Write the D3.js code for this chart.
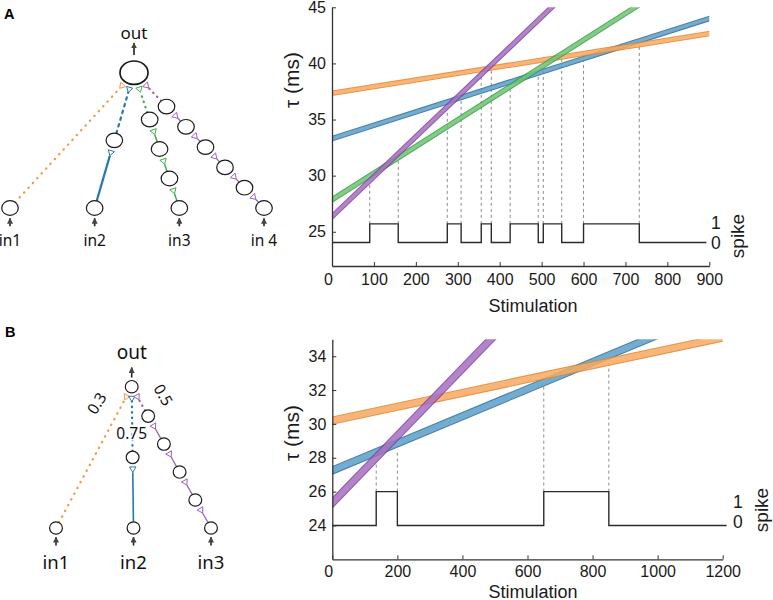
<!DOCTYPE html>
<html>
<head>
<meta charset="utf-8">
<script src="https://cdn.jsdelivr.net/npm/d3@7"></script>
<style>
  html, body { margin: 0; padding: 0; background: #fff; }
  svg { display: block; }
</style>
</head>
<body>
<svg id="fig" width="773" height="600"></svg>
<script>
// ---------- panel A data ----------
var stimTicksA = [0, 100, 200, 300, 400, 500, 600, 700, 800, 900];
var tauTicksA = [25, 30, 35, 40, 45];
var inputsA = ["in1", "in2", "in3", "in 4"];
var relaysA = [0, 1, 3, 5];
// [stimulation, tau] at both ends of each band
var tauIn1A = [[0, 37.35], [900, 42.65]];
var tauIn2A = [[0, 33.3], [900, 44.0]];
var tauIn3A = [[0, 27.85], [723, 45]];
var tauIn4A = [[0, 26.35], [524, 45]];
var spikeOnA = [[90, 158], [275, 308], [356, 380], [425, 492], [504, 548], [600, 733]];
var dashTopA = [29.35, 31.4, 35.95, 36.75, 38.8, 39.4, 37.7, 38.95, 39.6, 40.4, 40.2, 41.5];
var spikeLevelA = [24.05, 25.7];
var spikeEndA = 893;

// ---------- panel B data ----------
var stimTicksB = [0, 200, 400, 600, 800, 1000, 1200];
var tauTicksB = [24, 26, 28, 30, 32, 34];
var inputsB = ["in1", "in2", "in3"];
var relaysB = [0, 1, 4];
var weightsB = ["0.3", "0.75", "0.5"];
var tauIn1B = [[0, 30.2], [1200, 35.1]];
var tauIn2B = [[0, 27.25], [968, 35]];
var tauIn3B = [[0, 25.33], [487, 35]];
var spikeOnB = [[135, 200], [650, 850]];
var dashTopB = [27.6, 28.5, 32.2, 33.55];
var spikeLevelB = [24, 26];
var spikeEndB = 1212;

var spikeTickLabels = ["0", "1"];

// ---------- styles ----------
var ORANGE = {edge: "#e8822a", fill: "#f6ab63", tree: "#f29a45"};
var BLUE   = {edge: "#2a6a95", fill: "#5b9ec8", tree: "#2878b0"};
var GREEN  = {edge: "#3a9c44", fill: "#6dc474", tree: "#45a84c"};
var PURPLE = {edge: "#7b3f99", fill: "#a66fc0", tree: "#9a62b8"};
var FONT = "'Liberation Sans', Arial, sans-serif";
var TFONT = "'Noto Sans', 'DejaVu Sans', sans-serif";

var svg = d3.select("#fig");
var defs = svg.append("defs");

defs.append("marker")
  .attr("id", "head")
  .attr("viewBox", "0 0 10 10")
  .attr("refX", 9).attr("refY", 5)
  .attr("markerUnits", "userSpaceOnUse")
  .attr("markerWidth", 6).attr("markerHeight", 6)
  .attr("orient", "auto")
  .append("path").attr("d", "M0,0L10,5L0,10Z").attr("fill", "#444");

function extend(pts, x, y, ext) {
  var x0 = x(pts[0][0]), y0 = y(pts[0][1]), x1 = x(pts[1][0]), y1 = y(pts[1][1]);
  var len = Math.hypot(x1 - x0, y1 - y0), ux = (x1 - x0) / len, uy = (y1 - y0) / len;
  return [[x0 - ux * ext, y0 - uy * ext], [x1 + ux * ext, y1 + uy * ext]];
}

function drawChart(opt) {
  var g = svg.append("g");
  var x = d3.scaleLinear().domain(opt.xDomain).range([opt.left, opt.right]);
  var y = d3.scaleLinear().domain(opt.yDomain).range([opt.bottom, opt.top]);

  defs.append("clipPath").attr("id", "clip" + opt.id)
    .append("rect")
    .attr("x", x(opt.xDomain[0])).attr("y", y(opt.yDomain[1]))
    .attr("width", x(opt.xDomain[1]) - x(opt.xDomain[0]))
    .attr("height", y(opt.yDomain[0]) - y(opt.yDomain[1]));

  // dashed markers from spike edges up to the crossing
  var edges = [];
  opt.spikeOn.forEach(function(p) { edges.push(p[0], p[1]); });
  g.append("g").selectAll("line").data(edges).join("line")
    .attr("x1", function(d) { return x(d); })
    .attr("x2", function(d) { return x(d); })
    .attr("y1", y(opt.spikeLevel[1]))
    .attr("y2", function(d, i) { return y(opt.dashTop[i]); })
    .attr("stroke", "#8c8c8c").attr("stroke-width", 1)
    .attr("stroke-dasharray", "3,3");

  // bands
  var bands = g.append("g").attr("clip-path", "url(#clip" + opt.id + ")");
  var line = d3.line();
  opt.bands.forEach(function(b) {
    var pts = extend(b.pts, x, y, 14);
    var bg = bands.append("g").attr("opacity", 0.85);
    bg.append("path").attr("d", line(pts)).attr("fill", "none")
      .attr("stroke", b.col.edge).attr("stroke-width", opt.bandW);
    bg.append("path").attr("d", line(pts)).attr("fill", "none")
      .attr("stroke", b.col.fill).attr("stroke-width", opt.bandW - 2);
  });

  // spike train
  var lo = opt.spikeLevel[0], hi = opt.spikeLevel[1];
  var sp = [[0, lo]];
  opt.spikeOn.forEach(function(p) {
    sp.push([p[0], lo], [p[0], hi], [p[1], hi], [p[1], lo]);
  });
  sp.push([opt.spikeEnd, lo]);
  g.append("path")
    .attr("d", d3.line().x(function(d) { return x(d[0]); }).y(function(d) { return y(d[1]); })(sp))
    .attr("fill", "none").attr("stroke", "#2b2b2b").attr("stroke-width", 1.4);

  // spike tick labels
  var s = d3.scaleLinear().domain([0, 1]).range(opt.spikeLabelY);
  g.append("g").selectAll("text").data(spikeTickLabels).join("text")
    .attr("x", opt.spikeLabelX)
    .attr("y", function(d, i) { return s(i); })
    .attr("dy", "0.36em")
    .attr("font-family", FONT).attr("font-size", 17.5).attr("fill", "#1a1a1a")
    .text(function(d) { return d; });
  g.append("text")
    .attr("transform", "translate(" + opt.spikeTitle[0] + "," + opt.spikeTitle[1] + ") rotate(-90)")
    .attr("text-anchor", "middle")
    .attr("font-family", FONT).attr("font-size", 19).attr("fill", "#1a1a1a")
    .text("spike");

  // axes
  var ax = g.append("g").attr("transform", "translate(0," + opt.bottom + ")")
    .call(d3.axisBottom(x).tickValues(opt.xTicks).tickFormat(d3.format("d"))
      .tickSizeInner(-4).tickSizeOuter(0).tickPadding(opt.xPad));
  var ay = g.append("g").attr("transform", "translate(" + opt.left + ",0)")
    .call(d3.axisLeft(y).tickValues(opt.yTicks).tickFormat(d3.format("d"))
      .tickSizeInner(-4).tickSizeOuter(0).tickPadding(6));
  [ax, ay].forEach(function(a) {
    a.select(".domain").attr("stroke", "#333").attr("stroke-width", 1.3);
    a.selectAll(".tick line").attr("stroke", "#333").attr("stroke-width", 1);
    a.selectAll(".tick text").attr("font-family", FONT).attr("font-size", 16).attr("fill", "#1a1a1a");
  });
  ax.select(".tick text").attr("dx", -4);

  g.append("text")
    .attr("x", 533).attr("y", opt.xTitleY)
    .attr("text-anchor", "middle")
    .attr("font-family", FONT).attr("font-size", 18).attr("fill", "#1a1a1a")
    .text("Stimulation");
  g.append("text")
    .attr("transform", "translate(299," + opt.yTitleY + ") rotate(-90)")
    .attr("text-anchor", "middle")
    .attr("font-family", FONT).attr("font-size", 21).attr("fill", "#1a1a1a")
    .text("\u03c4 (ms)");
}

function radiusAlong(n, ux, uy) {
  return 1 / Math.sqrt(Math.pow(ux / n.rx, 2) + Math.pow(uy / n.ry, 2));
}

function drawTree(opt) {
  var g = svg.append("g");
  var xIn = d3.scalePoint().domain(d3.range(opt.inputs.length)).range([opt.inLeft, opt.inRight]);
  var out = {x: opt.out[0], y: opt.out[1], rx: opt.outR[0], ry: opt.outR[1]};
  var nodes = [out], links = [];

  opt.inputs.forEach(function(name, i) {
    var src = {x: xIn(i), y: opt.inY, rx: opt.r[0], ry: opt.r[1]};
    var chain = [src];
    for (var k = 1; k <= opt.relays[i]; k++) {
      var t = k * opt.step[i];
      chain.push({x: src.x + (out.x - src.x) * t, y: src.y + (out.y - src.y) * t, rx: opt.r[0], ry: opt.r[1]});
    }
    chain.push(out);
    for (var j = 0; j < chain.length - 1; j++) {
      links.push({a: chain[j], b: chain[j + 1], dotted: j === chain.length - 2, i: i});
    }
    chain.slice(0, -1).forEach(function(n) { nodes.push(n); });
  });

  links.forEach(function(l) {
    var dx = l.b.x - l.a.x, dy = l.b.y - l.a.y, len = Math.hypot(dx, dy);
    var ux = dx / len, uy = dy / len, nx = -uy, ny = ux;
    var ra = radiusAlong(l.a, ux, uy), rb = radiusAlong(l.b, ux, uy);
    var cx = l.b.x - ux * (rb + 6), cy = l.b.y - uy * (rb + 6);
    var apex = [cx - ux * 2.6, cy - uy * 2.6];
    var base = [cx + ux * 2.6, cy + uy * 2.6];
    var col = opt.colors[l.i].tree;
    var p = g.append("line")
      .attr("x1", l.a.x + ux * ra).attr("y1", l.a.y + uy * ra)
      .attr("x2", apex[0]).attr("y2", apex[1])
      .attr("stroke", col);
    if (l.dotted) {
      p.attr("stroke-width", 2.2).attr("stroke-linecap", "round")
        .attr("stroke-dasharray", opt.dash[l.i]);
    } else {
      p.attr("stroke-width", opt.lineW[l.i]);
    }
    g.append("path")
      .attr("d", "M" + apex + "L" + [base[0] + nx * 3.3, base[1] + ny * 3.3] +
        "L" + [base[0] - nx * 3.3, base[1] - ny * 3.3] + "Z")
      .attr("fill", "#fff").attr("stroke", col).attr("stroke-width", 1);
  });

  g.append("g").selectAll("ellipse").data(nodes).join("ellipse")
    .attr("cx", function(d) { return d.x; })
    .attr("cy", function(d) { return d.y; })
    .attr("rx", function(d) { return d.rx; })
    .attr("ry", function(d) { return d.ry; })
    .attr("fill", "#fff").attr("stroke", "#1a1a1a")
    .attr("stroke-width", function(d, i) { return i === 0 ? opt.outW : 1.2; });

  // arrows
  var arrows = [[out.x, out.y - out.ry - opt.outGap, out.x, out.y - out.ry - opt.outGap - opt.outLen]];
  opt.inputs.forEach(function(name, i) {
    arrows.push([xIn(i), opt.inY + opt.r[1] + 3 + opt.inLen, xIn(i), opt.inY + opt.r[1] + 3]);
  });
  g.append("g").selectAll("line").data(arrows).join("line")
    .attr("x1", function(d) { return d[0]; }).attr("y1", function(d) { return d[1]; })
    .attr("x2", function(d) { return d[2]; }).attr("y2", function(d) { return d[3]; })
    .attr("stroke", "#222").attr("stroke-width", 1.6)
    .attr("marker-end", "url(#head)");

  g.append("text")
    .attr("x", out.x).attr("y", opt.outLabelY)
    .attr("text-anchor", "middle")
    .attr("font-family", TFONT).attr("font-size", opt.outFont).attr("fill", "#111")
    .text("out");
  g.append("g").selectAll("text").data(opt.inputs).join("text")
    .attr("x", function(d, i) { return xIn(i); })
    .attr("y", opt.inLabelY)
    .attr("text-anchor", "middle")
    .attr("font-family", TFONT).attr("font-size", opt.inFont).attr("fill", "#111")
    .text(function(d) { return d; });

  if (opt.weights) {
    g.append("g").selectAll("text").data(opt.weights).join("text")
      .attr("transform", function(d, i) {
        return "translate(" + opt.weightPos[i] + ") rotate(" + opt.weightRot[i] + ")";
      })
      .attr("text-anchor", "middle").attr("dy", "0.36em")
      .attr("font-family", TFONT).attr("font-size", 15.5).attr("fill", "#111")
      .attr("stroke", "#fff").attr("stroke-width", 3).attr("paint-order", "stroke")
      .text(function(d) { return d; });
  }
}

// panel letters
svg.append("text").attr("x", 4).attr("y", 18.5)
  .attr("font-family", FONT).attr("font-weight", "bold").attr("font-size", 14.5).text("A");
svg.append("text").attr("x", 5).attr("y", 337)
  .attr("font-family", FONT).attr("font-weight", "bold").attr("font-size", 14.5).text("B");

drawTree({
  inputs: inputsA, relays: relaysA,
  colors: [ORANGE, BLUE, GREEN, PURPLE],
  step: [0, 0.5, 0.218, 0.15],
  lineW: [1.4, 2.2, 1.5, 1.3],
  dash: ["0.5,6", "2.5,4.5", "0.5,5", "0.5,5"],
  inLeft: 10, inRight: 264, inY: 208,
  out: [134, 72.7], outR: [14, 11.7], outW: 1.7,
  r: [8.3, 7.3],
  outGap: 6, outLen: 12, inLen: 8,
  outLabelY: 38.5, outFont: 17,
  inLabelY: 246, inFont: 15.5
});

drawTree({
  inputs: inputsB, relays: relaysB,
  colors: [ORANGE, BLUE, PURPLE],
  step: [0, 0.5, 0.198],
  lineW: [1.4, 1.6, 1.3],
  dash: ["0.5,6", "0.5,5", "0.5,5"],
  inLeft: 56, inRight: 211, inY: 528,
  out: [131.7, 386.7], outR: [6.4, 6.2], outW: 1.2,
  r: [6.4, 6.2],
  outGap: 3, outLen: 10, inLen: 8.4,
  outLabelY: 358.5, outFont: 19,
  inLabelY: 568.5, inFont: 18.5,
  weights: weightsB,
  weightPos: [[96.7, 403.3], [131.7, 433.3], [163.3, 395]],
  weightRot: [-58, 0, 60]
});

drawChart({
  id: "A",
  xDomain: [0, 900], yDomain: [21.95, 45],
  left: 332, right: 709.3, top: 7.3, bottom: 266,
  xTicks: stimTicksA, yTicks: tauTicksA, xPad: 8,
  bandW: 5.4,
  bands: [
    {pts: tauIn2A, col: BLUE},
    {pts: tauIn1A, col: ORANGE},
    {pts: tauIn3A, col: GREEN},
    {pts: tauIn4A, col: PURPLE}
  ],
  spikeOn: spikeOnA, dashTop: dashTopA, spikeLevel: spikeLevelA, spikeEnd: spikeEndA,
  spikeLabelX: 711, spikeLabelY: [242.4, 222.7], spikeTitle: [744, 236],
  xTitleY: 311.5, yTitleY: 80
});

drawChart({
  id: "B",
  xDomain: [0, 1200], yDomain: [22, 35],
  left: 332.3, right: 722.7, top: 339.3, bottom: 559.3,
  xTicks: stimTicksB, yTicks: tauTicksB, xPad: 6.5,
  bandW: 8,
  bands: [
    {pts: tauIn2B, col: BLUE},
    {pts: tauIn1B, col: ORANGE},
    {pts: tauIn3B, col: PURPLE}
  ],
  spikeOn: spikeOnB, dashTop: dashTopB, spikeLevel: spikeLevelB, spikeEnd: spikeEndB,
  spikeLabelX: 733, spikeLabelY: [521.7, 501.7], spikeTitle: [768, 510],
  xTitleY: 597.5, yTitleY: 433
});
</script>
</body>
</html>
